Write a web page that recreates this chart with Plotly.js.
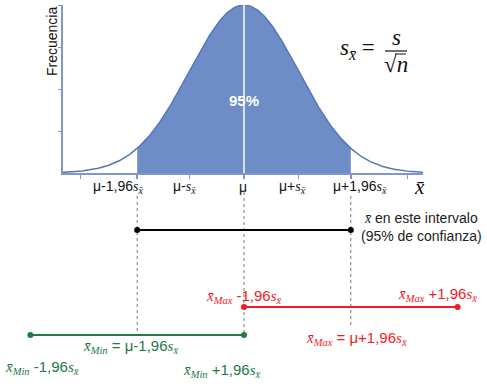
<!DOCTYPE html>
<html><head><meta charset="utf-8">
<script src="https://cdn.plot.ly/plotly-3.0.1.min.js"></script>
<style>html,body{margin:0;padding:0;background:#fff}</style>
</head><body>
<div id="chart" style="width:487px;height:384px"></div>
<script>
// ---- data (in units of the standard error s_x̄, centred on μ) ----
const mu = 0;
const se = 1;
const z95 = 1.96;
const curveRange = [-3.32, 3.28];
const tickVals = [-3, -1.96, -1, 0, 1, 1.96, 3];
const tickLabelVals = [-1.96, -1, 0, 1, 1.96];
const intervalBlack = [mu - z95 * se, mu + z95 * se];
const intervalRed = [mu, mu + 2 * z95 * se];      // x̄Max ± 1,96 s
const intervalGreen = [mu - 2 * z95 * se, mu];    // x̄Min ± 1,96 s
const guideVals = [mu - z95 * se, mu, mu + z95 * se];

// theoretical normal curve (scaled so peak = 1)
const cx = [], cy = [], sx_ = [], sy_ = [];
for (let i = 0; i <= 660; i++) {
  const x = curveRange[0] + (curveRange[1] - curveRange[0]) * i / 660;
  cx.push(x); cy.push(Math.exp(-0.5 * ((x - mu) / se) ** 2));
}
for (let i = 0; i <= 392; i++) {
  const x = intervalBlack[0] + (intervalBlack[1] - intervalBlack[0]) * i / 392;
  sx_.push(x); sy_.push(Math.exp(-0.5 * ((x - mu) / se) ** 2));
}

// ---- styling helpers ----
const SANS = 'Liberation Sans, Arial, sans-serif';
const mi = t => `<span style="font-family:Liberation Serif;font-style:italic">${t}</span>`;
const XB = 'x\u0304';
const sx = mi('s') + '<sub>' + mi(XB) + '</sub>';
const xmax = mi(XB) + '<sub>' + mi('Max') + '</sub>';
const xmin = mi(XB) + '<sub>' + mi('Min') + '</sub>';

const axisBlue = '#7f98ca';
const fillBlue = '#6e8cc6';
const lineBlue = '#5676b8';
const red = '#f01c24';
const green = '#237a45';

const traces = [
  {x: sx_, y: sy_, type: 'scatter', mode: 'lines', fill: 'tozeroy', fillcolor: fillBlue,
   line: {width: 0, color: fillBlue}, xaxis: 'x', yaxis: 'y', hoverinfo: 'skip'},
  {x: cx, y: cy, type: 'scatter', mode: 'lines', line: {color: lineBlue, width: 1.5},
   xaxis: 'x', yaxis: 'y', hoverinfo: 'skip'},
  {x: [mu, mu], y: [0, 1], type: 'scatter', mode: 'lines', line: {color: '#ffffff', width: 1.5},
   xaxis: 'x', yaxis: 'y', hoverinfo: 'skip'}
];

// guide dotted lines (lower panel, y in pixel rows)
const guideTop = [196, 192, 196];
const guideBot = [335, 338, 327];
guideVals.forEach((g, i) => traces.push({
  x: [g, g], y: [guideTop[i], guideBot[i]], type: 'scatter', mode: 'lines',
  line: {color: '#777777', width: 1, dash: 'dot'}, xaxis: 'x2', yaxis: 'y2', hoverinfo: 'skip'
}));

const rows = {black: 230, red: 307, green: 335};
traces.push({x: intervalBlack, y: [rows.black, rows.black], type: 'scatter', mode: 'lines+markers',
  line: {color: '#000', width: 2}, marker: {color: '#000', size: 6}, xaxis: 'x2', yaxis: 'y2', hoverinfo: 'skip'});
traces.push({x: intervalRed, y: [rows.red, rows.red], type: 'scatter', mode: 'lines+markers',
  line: {color: red, width: 2}, marker: {color: red, size: 6}, xaxis: 'x2', yaxis: 'y2', hoverinfo: 'skip'});
traces.push({x: intervalGreen, y: [rows.green, rows.green], type: 'scatter', mode: 'lines+markers',
  line: {color: green, width: 2}, marker: {color: green, size: 6}, xaxis: 'x2', yaxis: 'y2', hoverinfo: 'skip'});

const tickText = ['μ-1,96' + sx, 'μ-' + sx, 'μ', 'μ+' + sx, 'μ+1,96' + sx];
const tickShift = [-19, -5, -1, -6, 9];

const ann = [];
const A = (o) => ann.push(Object.assign({xref: 'x2', yref: 'y2', showarrow: false,
  xanchor: 'center', yanchor: 'middle',
  font: {family: SANS, size: 14, color: '#111'}}, o));

tickLabelVals.forEach((v, i) => A({x: v, y: 187, text: tickText[i], xshift: tickShift[i]}));
A({xref: 'x domain', x: 1, y: 187, text: mi(XB), xshift: -4, font: {family: 'Liberation Serif', size: 21, color: '#111'}});
A({x: mu, y: 100, text: '<b>95%</b>', font: {family: SANS, size: 15, color: '#fff'}});
A({xref: 'paper', x: 52 / 487, y: 42, text: 'Frecuencia', textangle: -90, font: {family: SANS, size: 14, color: '#111'}});

// formula s_x̄ = s / √n
A({xref: 'paper', x: 357 / 487, y: 49, text: sx + ' =', font: {family: 'Liberation Serif', size: 23, color: '#111'}});
A({xref: 'paper', x: 396 / 487, y: 37, text: mi('s'), font: {family: 'Liberation Serif', size: 23, color: '#111'}});
A({xref: 'paper', x: 396 / 487, y: 64, text: '√' + mi('n'), font: {family: 'Liberation Serif', size: 23, color: '#111'}});

A({xref: 'paper', x: 421 / 487, y: 227, text: mi(XB) + ' en este intervalo<br>(95% de confianza)', align: 'center', font: {family: SANS, size: 14, color: '#222'}});

const LF = 15;
A({x: mu, y: 296, xanchor: 'right', xshift: 40, text: xmax + ' -1,96' + sx, font: {family: SANS, size: LF, color: red}});
A({x: intervalRed[1], y: 294, text: xmax + ' +1,96' + sx, xshift: -20, font: {family: SANS, size: LF, color: red}});
A({x: intervalBlack[1], y: 338, text: xmax + ' = μ+1,96' + sx, xshift: 6, font: {family: SANS, size: LF, color: red}});

A({x: intervalBlack[0], y: 346, text: xmin + ' = μ-1,96' + sx, xshift: -7, font: {family: SANS, size: LF, color: green}});
A({x: intervalGreen[0], y: 367, text: xmin + ' -1,96' + sx, xshift: 12, font: {family: SANS, size: LF, color: green}});
A({x: mu, y: 370, text: xmin + ' +1,96' + sx, xshift: -22, font: {family: SANS, size: LF, color: green}});

const pxScale = 54.5;
const layout = {
  width: 487, height: 384, margin: {l: 0, r: 0, t: 0, b: 0},
  paper_bgcolor: '#fff', plot_bgcolor: 'rgba(0,0,0,0)', showlegend: false,
  xaxis: {domain: [63 / 487, 423 / 487], range: [-181 / pxScale, 179 / pxScale], anchor: 'y',
    showline: true, linecolor: axisBlue, linewidth: 2, ticks: 'outside', ticklen: 4, tickwidth: 1.5,
    tickcolor: axisBlue, tickvals: tickVals, showticklabels: false, showgrid: false, zeroline: false, fixedrange: true},
  yaxis: {domain: [1 - 173 / 384, 1 - 5 / 384], range: [0, 1], anchor: 'x',
    showline: true, linecolor: axisBlue, linewidth: 2, ticks: 'outside', ticklen: 3, tickcolor: axisBlue,
    tickvals: [0.25, 0.5, 0.75, 1], showticklabels: false, showgrid: false, zeroline: false, fixedrange: true},
  xaxis2: {domain: [0, 1], range: [-244 / pxScale, 243 / pxScale], anchor: 'y2', visible: false, fixedrange: true},
  yaxis2: {domain: [0, 1], range: [384, 0], anchor: 'x2', visible: false, fixedrange: true},
  shapes: [
    {type: 'line', xref: 'paper', yref: 'y2', x0: 385 / 487, x1: 407 / 487, y0: 51, y1: 51, line: {color: '#111', width: 1.2}},
    {type: 'line', xref: 'paper', yref: 'y2', x0: 395 / 487, x1: 406 / 487, y0: 54, y1: 54, line: {color: '#111', width: 1}}
  ],
  annotations: ann
};
Plotly.newPlot('chart', traces, layout, {staticPlot: true, displayModeBar: false});
</script>
</body></html>
